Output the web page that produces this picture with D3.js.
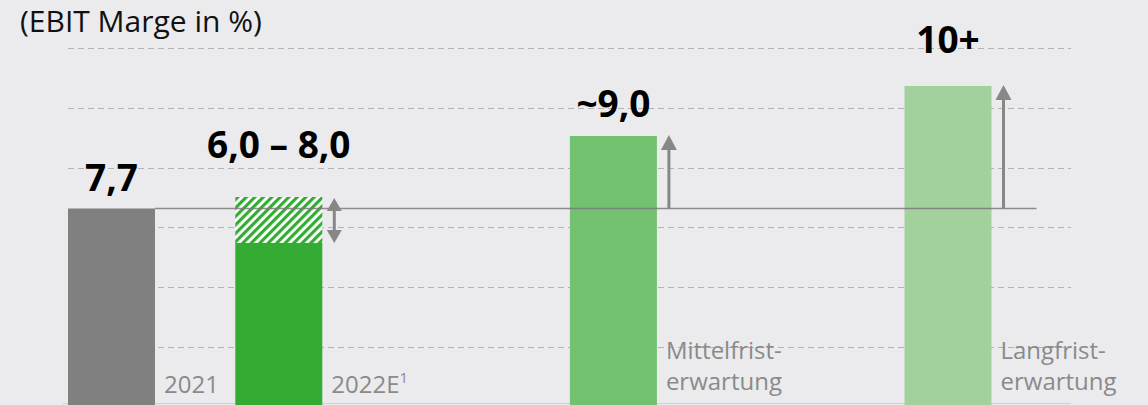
<!DOCTYPE html>
<html>
<head>
<meta charset="utf-8">
<script src="https://cdn.jsdelivr.net/npm/d3@7"></script>
<style>
  body { margin: 0; background: #ebebee; }
  svg { display: block; font-family: "Open Sans", "Noto Sans", sans-serif; }
</style>
</head>
<body>
<div id="chart"></div>
<script>
// data
var categories = ["2021", "2022E", "Mittelfrist-|erwartung", "Langfrist-|erwartung"];
var slots = [0, 1, 3, 5];
var lowValues = [7.7, 6.0, 9.0, 10.0];
var highValues = [7.7, 8.0, 9.0, 10.0];
var valueLabels = ["7,7", "6,0 \u2013 8,0", "~9,0", "10+"];
var referenceValue = 7.7;
var gridCount = 6;

var colors = ["#808080", "#34ac34", "#72c16e", "#a2d19e"];
var labelLift = [18, 39, 19, 33];

var W = 1148, H = 405;
var svg = d3.select("#chart").append("svg")
    .attr("width", W).attr("height", H);

svg.append("rect").attr("width", W).attr("height", H).attr("fill", "#ebebee");

// chart is schematic, not to scale
var y = d3.scaleLinear()
    .domain([0, 6, 7.7, 8, 9, 10])
    .range([405, 243, 208.5, 197, 136, 86]);

var x = d3.scaleLinear().domain([0, 5]).range([111.5, 948]);
var bw = 87;

var grid = d3.scaleLinear().domain([0, gridCount]).range([406.5, 48]);

var defs = svg.append("defs");
var pat = defs.append("pattern")
    .attr("id", "hatch")
    .attr("patternUnits", "userSpaceOnUse")
    .attr("width", 6).attr("height", 6)
    .attr("patternTransform", "rotate(45)");
pat.append("rect").attr("width", 6).attr("height", 6).attr("fill", "#ffffff");
pat.append("rect").attr("width", 3.2).attr("height", 6).attr("fill", colors[1]);

// gridlines
svg.append("g")
    .selectAll("line")
    .data(d3.range(1, gridCount + 1))
    .enter().append("line")
    .attr("x1", 68).attr("x2", 1071)
    .attr("y1", function(d) { return Math.round(grid(d)) + 0.5; })
    .attr("y2", function(d) { return Math.round(grid(d)) + 0.5; })
    .attr("stroke", "#b3b3b5")
    .attr("stroke-width", 1)
    .attr("stroke-dasharray", "6,4");

// bottom line
svg.append("line")
    .attr("x1", 63).attr("x2", 1071)
    .attr("y1", 403.5).attr("y2", 403.5)
    .attr("stroke", "#cfcfd2").attr("stroke-width", 1);

// bars, solid part
svg.append("g").selectAll("rect")
    .data(categories)
    .enter().append("rect")
    .attr("x", function(d, i) { return x(slots[i]) - bw / 2; })
    .attr("width", bw)
    .attr("y", function(d, i) { return y(lowValues[i]); })
    .attr("height", function(d, i) { return y(0) - y(lowValues[i]); })
    .attr("fill", function(d, i) { return colors[i]; });

// bars, range part (hatched)
svg.append("g").selectAll("rect")
    .data(categories.filter(function(d, i) { return highValues[i] > lowValues[i]; }))
    .enter().append("rect")
    .attr("x", function(d) { var i = categories.indexOf(d); return x(slots[i]) - bw / 2; })
    .attr("width", bw)
    .attr("y", function(d) { var i = categories.indexOf(d); return y(highValues[i]); })
    .attr("height", function(d) { var i = categories.indexOf(d); return y(lowValues[i]) - y(highValues[i]); })
    .attr("fill", "url(#hatch)");

// reference line at 2021 level
svg.append("line")
    .attr("x1", x(slots[0]) + bw / 2)
    .attr("x2", x(slots[3]) + bw / 2 + 45)
    .attr("y1", y(referenceValue)).attr("y2", y(referenceValue))
    .attr("stroke", "#7a7a7a").attr("stroke-opacity", 0.85)
    .attr("stroke-width", 1.5);

// arrows
var arrowCol = "#878787";
var ag = svg.append("g");
categories.forEach(function(d, i) {
    if (i === 0) return;
    var ax = x(slots[i]) + bw / 2 + 12;
    if (highValues[i] > lowValues[i]) {
        var top = y(highValues[i]) + 1, bot = y(lowValues[i]);
        var hh = 13, hw = 7.5;
        ag.append("line").attr("x1", ax).attr("x2", ax)
            .attr("y1", top + hh - 1).attr("y2", bot - hh + 1)
            .attr("stroke", arrowCol).attr("stroke-width", 3);
        ag.append("path")
            .attr("d", "M" + ax + "," + top + "L" + (ax + hw) + "," + (top + hh) + "L" + (ax - hw) + "," + (top + hh) + "Z")
            .attr("fill", arrowCol);
        ag.append("path")
            .attr("d", "M" + ax + "," + bot + "L" + (ax + hw) + "," + (bot - hh) + "L" + (ax - hw) + "," + (bot - hh) + "Z")
            .attr("fill", arrowCol);
    } else {
        var tip = y(highValues[i]) - 1, base = y(referenceValue);
        var hh2 = 15, hw2 = 8;
        ag.append("line").attr("x1", ax).attr("x2", ax)
            .attr("y1", base).attr("y2", tip + hh2 - 1)
            .attr("stroke", arrowCol).attr("stroke-width", 3);
        ag.append("path")
            .attr("d", "M" + ax + "," + tip + "L" + (ax + hw2) + "," + (tip + hh2) + "L" + (ax - hw2) + "," + (tip + hh2) + "Z")
            .attr("fill", arrowCol);
    }
});

// value labels
svg.append("g").selectAll("text")
    .data(valueLabels)
    .enter().append("text")
    .attr("x", function(d, i) { return x(slots[i]); })
    .attr("y", function(d, i) { return y(highValues[i]) - labelLift[i]; })
    .attr("text-anchor", "middle")
    .attr("font-size", 37)
    .attr("font-weight", "bold")
    .attr("fill", "#000")
    .text(function(d) { return d; });

// category labels
var cat = svg.append("g").selectAll("text")
    .data(categories)
    .enter().append("text")
    .attr("x", function(d, i) { return x(slots[i]) + bw / 2 + 9; })
    .attr("y", function(d) { return d.indexOf("|") >= 0 ? 359 : 393; })
    .attr("font-size", 24)
    .attr("fill", "#8a8a8a");

cat.each(function(d) {
    var t = d3.select(this);
    var parts = d.split("|");
    parts.forEach(function(p, k) {
        var ts = t.append("tspan").text(p);
        if (k > 0) ts.attr("x", t.attr("x")).attr("dy", 31);
    });
    if (d === "2022E") {
        t.append("tspan").text("1").attr("font-size", 15).attr("dy", -10);
    }
});

// title
svg.append("text")
    .attr("x", 20).attr("y", 32)
    .attr("font-size", 30)
    .attr("fill", "#111")
    .text("(EBIT Marge in %)");
</script>
</body>
</html>
